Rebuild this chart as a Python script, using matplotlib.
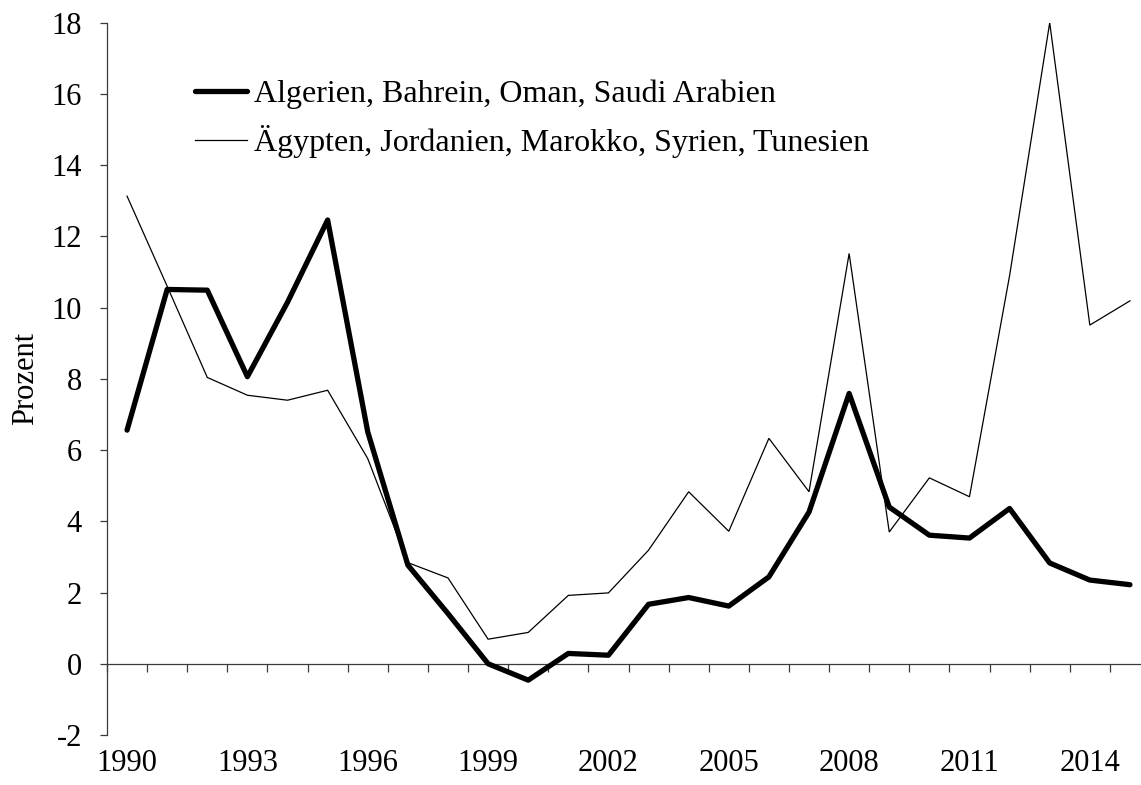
import numpy as np
import matplotlib
matplotlib.use("Agg")
import matplotlib.pyplot as plt

years = list(range(1990, 2016))
gulf = [6.56, 10.51, 10.49, 8.06, 10.15, 12.46, 6.51, 2.77, 1.41, 0.0,
        -0.46, 0.29, 0.24, 1.67, 1.86, 1.62, 2.44, 4.26, 7.59, 4.40,
        3.61, 3.53, 4.36, 2.83, 2.35, 2.22]
north = [13.13, 10.6, 8.04, 7.54, 7.40, 7.68, 5.76, 2.84, 2.41, 0.69,
         0.88, 1.92, 1.99, 3.19, 4.83, 3.72, 6.33, 4.83, 11.52, 3.70,
         5.22, 4.69, 10.9, 18.0, 9.51, 10.19]
gulf_label = "Algerien, Bahrein, Oman, Saudi Arabien"
north_label = "Ägypten, Jordanien, Marokko, Syrien, Tunesien"
label_years = [1990, 1993, 1996, 1999, 2002, 2005, 2008, 2011, 2014]
yticks = list(range(-2, 19, 2))


def main():
    plt.rcParams["font.family"] = ["Liberation Serif", "DejaVu Serif"]
    W, H = 1141, 785
    fig = plt.figure(figsize=(W / 100, H / 100), dpi=100)
    # axes box in pixels: left 107, top 22.7, bottom 735, right edge at 2015.5 ~ 1150
    ax = fig.add_axes([107 / W, (H - 735) / H, (1150 - 107) / W, (735 - 22.7) / H])

    axis_col = "#3a3a3a"
    ax.plot(years, gulf, color="black", lw=3.8, solid_capstyle="round",
            solid_joinstyle="round", label=gulf_label, zorder=3)
    ax.plot(years, north, color="black", lw=0.9, solid_joinstyle="miter",
            label=north_label, zorder=4)

    ax.set_xlim(1989.5, 2015.5)
    ax.set_ylim(-2, 18)
    ax.set_yticks(yticks)
    ax.set_yticklabels([str(v) for v in yticks])
    ax.tick_params(axis="y", direction="out", length=5, width=0.9,
                   color=axis_col, labelsize=22, pad=13)

    for s in ["top", "right"]:
        ax.spines[s].set_visible(False)
    ax.spines["left"].set_color(axis_col)
    ax.spines["left"].set_linewidth(0.9)
    ax.spines["bottom"].set_position(("data", 0))
    ax.spines["bottom"].set_color(axis_col)
    ax.spines["bottom"].set_linewidth(0.9)

    # tick marks between categories on the zero line
    ax.set_xticks(np.arange(1989.5, 2016, 1.0))
    ax.set_xticklabels([])
    ax.tick_params(axis="x", direction="out", length=6, width=0.9, color=axis_col)

    # year labels at the bottom of the plot area
    sec = ax.secondary_xaxis("bottom")
    sec.set_xticks(label_years)
    sec.set_xticklabels([str(y) for y in label_years])
    sec.tick_params(length=0, labelsize=22, pad=10)
    sec.spines["bottom"].set_visible(False)

    ax.set_ylabel("Prozent", fontsize=22, labelpad=8)

    ax.legend(loc="upper left", bbox_to_anchor=(0.0845, 0.92), frameon=False,
              fontsize=23, handlelength=1.62, handletextpad=0.22,
              labelspacing=0.5, borderpad=0, borderaxespad=0)

    fig.savefig("out.png", dpi=100)


if __name__ == "__main__":
    main()
